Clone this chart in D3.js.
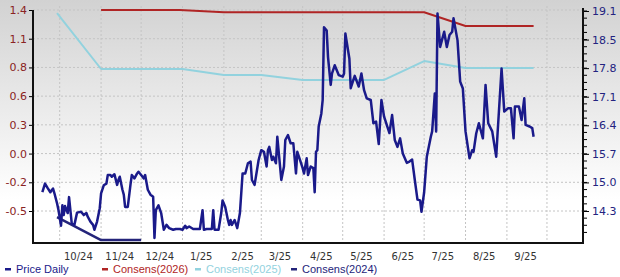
<!DOCTYPE html>
<html lang="en">
  <head>
    <meta charset="UTF-8" />
    <title>Price and consensus</title>
    <script src="https://d3js.org/d3.v7.min.js" charset="utf-8"></script>
    <style>
      body { margin: 0; background: #fff; }
      svg { display: block; }
    </style>
  </head>
  <body>
    <svg class="chart"></svg>
    <script>
      // daily price (right axis)
      let priceDates = [
        "2024-09-18","2024-09-20","2024-09-22","2024-09-24","2024-09-25","2024-09-26","2024-09-27","2024-09-29","2024-09-30",
        "2024-10-02","2024-10-03","2024-10-04","2024-10-05","2024-10-07","2024-10-08","2024-10-09","2024-10-10","2024-10-12",
        "2024-10-14","2024-10-17","2024-10-19","2024-10-21","2024-10-22","2024-10-24","2024-10-26","2024-10-27","2024-10-29","2024-10-31",
        "2024-11-01","2024-11-03","2024-11-05","2024-11-06","2024-11-08","2024-11-09","2024-11-11","2024-11-13","2024-11-14","2024-11-15",
        "2024-11-17","2024-11-18","2024-11-19","2024-11-21","2024-11-23","2024-11-24","2024-11-26","2024-11-28","2024-11-29",
        "2024-12-01","2024-12-03","2024-12-04","2024-12-06","2024-12-08","2024-12-10","2024-12-11","2024-12-12","2024-12-14",
        "2024-12-16","2024-12-18","2024-12-20","2024-12-22","2024-12-25","2024-12-27","2024-12-30",
        "2025-01-01","2025-01-03","2025-01-04","2025-01-06","2025-01-09","2025-01-11","2025-01-14","2025-01-16","2025-01-17",
        "2025-01-19","2025-01-23","2025-01-24","2025-01-25","2025-01-28","2025-01-30","2025-01-31",
        "2025-02-02","2025-02-04","2025-02-05","2025-02-06","2025-02-07","2025-02-09","2025-02-11","2025-02-13","2025-02-15",
        "2025-02-17","2025-02-19","2025-02-21","2025-02-22","2025-02-24","2025-02-27",
        "2025-03-01","2025-03-03","2025-03-05","2025-03-06","2025-03-07","2025-03-09","2025-03-10","2025-03-12","2025-03-13",
        "2025-03-16","2025-03-18","2025-03-19","2025-03-21","2025-03-23","2025-03-25","2025-03-27","2025-03-28","2025-03-30",
        "2025-04-01","2025-04-02","2025-04-04","2025-04-05","2025-04-07","2025-04-09","2025-04-10","2025-04-11","2025-04-12",
        "2025-04-13","2025-04-15","2025-04-16","2025-04-17","2025-04-19","2025-04-20","2025-04-22","2025-04-23","2025-04-25",
        "2025-04-26","2025-04-28",
        "2025-05-01","2025-05-02","2025-05-03","2025-05-04","2025-05-06","2025-05-07","2025-05-09","2025-05-10","2025-05-13",
        "2025-05-15","2025-05-17","2025-05-19","2025-05-22","2025-05-24","2025-05-26","2025-05-28","2025-05-30",
        "2025-06-01","2025-06-05","2025-06-07","2025-06-09","2025-06-11","2025-06-13","2025-06-15","2025-06-18","2025-06-20",
        "2025-06-22","2025-06-24","2025-06-26","2025-06-28","2025-06-29",
        "2025-07-01","2025-07-03","2025-07-06","2025-07-07","2025-07-09","2025-07-10","2025-07-11","2025-07-13","2025-07-16",
        "2025-07-18","2025-07-20","2025-07-22","2025-07-23","2025-07-26","2025-07-28","2025-07-30",
        "2025-08-01","2025-08-04","2025-08-06","2025-08-07","2025-08-09","2025-08-11","2025-08-14","2025-08-16","2025-08-18",
        "2025-08-21","2025-08-24","2025-08-25","2025-08-28","2025-08-30",
        "2025-09-02","2025-09-04","2025-09-06","2025-09-07","2025-09-10","2025-09-12","2025-09-14","2025-09-15","2025-09-18",
        "2025-09-20","2025-09-21"
      ];
      let priceValues = [
        14.76,14.97,14.86,14.76,14.81,14.85,14.74,14.49,14.34,
        13.94,14.44,14.20,14.42,14.25,14.64,14.32,14.00,13.96,
        14.26,14.28,14.20,14.25,14.16,14.04,13.96,13.84,14.04,14.37,
        14.73,14.93,14.97,15.18,15.18,15.14,15.20,14.94,15.06,15.14,
        14.82,14.70,14.40,14.40,14.94,15.18,15.10,15.22,15.26,
        15.18,15.10,15.18,14.82,14.70,14.65,13.64,14.32,14.44,
        14.25,13.84,13.96,13.88,13.84,13.86,13.86,
        13.84,13.94,13.88,13.92,13.86,13.86,13.86,14.32,13.84,
        13.86,13.86,14.32,13.84,13.84,14.25,14.56,
        14.40,14.08,13.96,14.08,13.96,14.08,13.88,14.25,15.22,
        15.22,15.47,15.51,15.06,14.94,15.55,
        15.79,15.75,15.39,15.79,15.87,15.55,15.63,15.47,16.12,
        15.06,15.39,16.04,16.16,15.96,15.96,15.22,15.75,15.55,
        15.35,15.22,15.59,15.18,15.39,15.35,14.76,15.75,15.79,
        16.37,16.69,17.02,18.80,18.72,18.07,17.39,17.67,17.87,
        17.79,17.63,
        17.59,17.67,18.65,18.44,18.03,17.31,17.51,17.61,17.35,
        17.67,17.26,17.06,17.02,16.45,16.49,15.94,17.02,
        16.61,16.21,16.65,16.04,15.87,16.08,15.71,15.48,15.51,
        15.56,15.06,14.58,14.56,14.28,
        14.76,15.63,16.12,16.25,17.18,16.25,19.14,18.32,18.69,
        18.32,18.61,18.69,19.02,18.48,17.47,17.30,
        16.25,15.59,15.79,15.75,16.20,16.45,16.08,17.39,16.45,
        16.25,15.63,16.20,17.79,16.74,
        16.82,16.82,16.08,16.86,16.86,16.53,17.06,16.41,16.37,
        16.33,16.12
      ];

      // consensus estimates (left axis)
      let cons2026Dates = ["2024-11-01", "2024-12-30", "2025-02-01", "2025-07-01", "2025-08-01", "2025-09-21"];
      let cons2026Values = [1.375, 1.375, 1.353, 1.353, 1.222, 1.222];
      let cons2025Dates = ["2024-09-29", "2024-11-01", "2025-01-01", "2025-02-01", "2025-03-01", "2025-04-01", "2025-06-01", "2025-07-01", "2025-08-01", "2025-09-21"];
      let cons2025Values = [1.346, 0.81, 0.81, 0.752, 0.752, 0.705, 0.705, 0.886, 0.819, 0.819];
      let cons2024Dates = ["2024-09-29", "2024-11-01", "2024-12-01"];
      let cons2024Values = [-0.608, -0.828, -0.828];

      // axes
      let leftTicks = [1.375, 1.1, 0.825, 0.55, 0.275, 0, -0.275, -0.55];
      let leftLabels = ["1.4", "1.1", "0.8", "0.6", "0.3", "0.0", "-0.2", "-0.5"];
      let rightTicks = [19.2, 18.5, 17.8, 17.1, 16.4, 15.7, 15.0, 14.3];
      let rightLabels = ["19.1", "18.5", "17.8", "17.1", "16.4", "15.7", "15.0", "14.3"];
      let monthStarts = ["2024-10-01","2024-11-01","2024-12-01","2025-01-01","2025-02-01","2025-03-01","2025-04-01",
        "2025-05-01","2025-06-01","2025-07-01","2025-08-01","2025-09-01","2025-10-01"];
      let monthLabels = ["10/24","11/24","12/24","1/25","2/25","3/25","4/25","5/25","6/25","7/25","8/25","9/25"];

      let legendNames = ["Price Daily", "Consens(2026)", "Consens(2025)", "Consens(2024)"];
      let legendColors = ["#1a1a8a", "#b02525", "#92d2de", "#24247a"];

      let width = 620;
      let height = 277;
      let plotLeft = 33, plotRight = 583, plotTop = 10, plotBottom = 243;

      let parse = d3.timeParse("%Y-%m-%d");

      let x = d3.scaleTime()
        .domain([parse("2024-09-11"), parse("2025-10-28")])
        .range([plotLeft, plotRight]);
      let yLeft = d3.scaleLinear().domain([-0.55, 1.375]).range([211, 10]);
      let yRight = d3.scaleLinear().domain([14.3, 19.2]).range([211, 11]);

      let chart = d3.select(".chart").attr("width", width).attr("height", height);

      let grad = chart.append("defs").append("linearGradient")
        .attr("id", "bg").attr("x1", 0).attr("y1", 0).attr("x2", 0).attr("y2", 1);
      grad.append("stop").attr("offset", "0%").attr("stop-color", "#d2d2d2");
      grad.append("stop").attr("offset", "72%").attr("stop-color", "#ffffff");

      chart.append("rect")
        .attr("width", width).attr("height", height)
        .style("fill", "url(#bg)");

      // grid
      chart.append("g")
        .selectAll("line")
        .data(leftTicks)
        .enter()
        .append("line")
        .attr("x1", plotLeft).attr("x2", plotRight)
        .attr("y1", d => yLeft(d)).attr("y2", d => yLeft(d))
        .style("stroke", "#c4c4c4")
        .style("stroke-dasharray", "2,2");

      chart.append("g")
        .selectAll("line")
        .data(monthStarts.map(parse))
        .enter()
        .append("line")
        .attr("x1", d => x(d)).attr("x2", d => x(d))
        .attr("y1", 6).attr("y2", plotBottom)
        .style("stroke", "#c4c4c4")
        .style("stroke-dasharray", "2,2");

      // lines
      function drawLine(dates, values, scale, color, w) {
        let pts = dates.map((d, i) => [parse(d), values[i]]);
        let line = d3.line()
          .x(d => x(d[0]))
          .y(d => scale(d[1]));
        chart.append("path")
          .datum(pts)
          .attr("d", line)
          .style("fill", "none")
          .style("stroke", color)
          .style("stroke-width", w)
          .style("stroke-linejoin", "round");
      }

      drawLine(cons2025Dates, cons2025Values, yLeft, legendColors[2], 2);
      drawLine(cons2026Dates, cons2026Values, yLeft, legendColors[1], 2);
      drawLine(cons2024Dates, cons2024Values, yLeft, legendColors[3], 2.5);
      drawLine(priceDates, priceValues, yRight, legendColors[0], 2.5);

      // left axis
      let axL = chart.append("g")
        .attr("transform", "translate(" + plotLeft + ",0)")
        .call(d3.axisLeft(yLeft)
          .tickValues(leftTicks)
          .tickSize(4)
          .tickFormat((d, i) => leftLabels[i]));
      axL.select(".domain").remove();
      axL.selectAll("line").style("stroke", "#000");
      axL.selectAll("text")
        .attr("x", -6)
        .style("fill", "#8a2323")
        .style("font-family", "DejaVu Sans")
        .style("font-size", "11px");

      // right axis with minor ticks
      let minor = d3.range(0, 33).map(i => 19.2 - i * 0.175).filter(v => v > 13.6);
      chart.append("g")
        .selectAll("line")
        .data(minor)
        .enter()
        .append("line")
        .attr("x1", plotRight).attr("x2", plotRight + 4)
        .attr("y1", d => yRight(d)).attr("y2", d => yRight(d))
        .style("stroke", "#000");

      let axR = chart.append("g")
        .attr("transform", "translate(" + plotRight + ",0)")
        .call(d3.axisRight(yRight)
          .tickValues(rightTicks)
          .tickSize(6)
          .tickFormat((d, i) => rightLabels[i]));
      axR.select(".domain").remove();
      axR.selectAll("line").style("stroke", "#000");
      axR.selectAll("text")
        .attr("x", 9)
        .style("fill", "#232380")
        .style("font-family", "DejaVu Sans")
        .style("font-size", "11px");

      // frame
      chart.append("line")
        .attr("x1", plotLeft).attr("x2", plotLeft).attr("y1", plotTop).attr("y2", plotBottom + 1)
        .style("stroke", "#111").style("stroke-width", 2);
      chart.append("line")
        .attr("x1", plotRight).attr("x2", plotRight).attr("y1", 8).attr("y2", plotBottom + 1)
        .style("stroke", "#111").style("stroke-width", 2);
      chart.append("line")
        .attr("x1", plotLeft - 1).attr("x2", plotRight + 1).attr("y1", plotBottom).attr("y2", plotBottom)
        .style("stroke", "#111").style("stroke-width", 2);

      // month labels
      chart.append("g")
        .selectAll("text")
        .data(monthLabels)
        .enter()
        .append("text")
        .attr("x", (d, i) => x(d3.timeDay.offset(parse(monthStarts[i]), 14)))
        .attr("y", 260)
        .attr("text-anchor", "middle")
        .style("fill", "#333")
        .style("font-family", "DejaVu Sans")
        .style("font-size", "10px")
        .text(d => d);

      // legend
      let legendX = [5, 102, 195, 291];
      let lg = chart.append("g")
        .selectAll("g")
        .data(legendNames)
        .enter()
        .append("g")
        .attr("transform", (d, i) => "translate(" + legendX[i] + ",269)");
      lg.append("rect")
        .attr("x", 0).attr("y", -1).attr("width", 6).attr("height", 2.5)
        .style("fill", (d, i) => legendColors[i]);
      lg.append("text")
        .attr("x", 11).attr("y", 4)
        .style("fill", (d, i) => legendColors[i])
        .style("font-family", "Liberation Sans, Arial")
        .style("font-size", "11px")
        .text(d => d);
    </script>
  </body>
</html>
